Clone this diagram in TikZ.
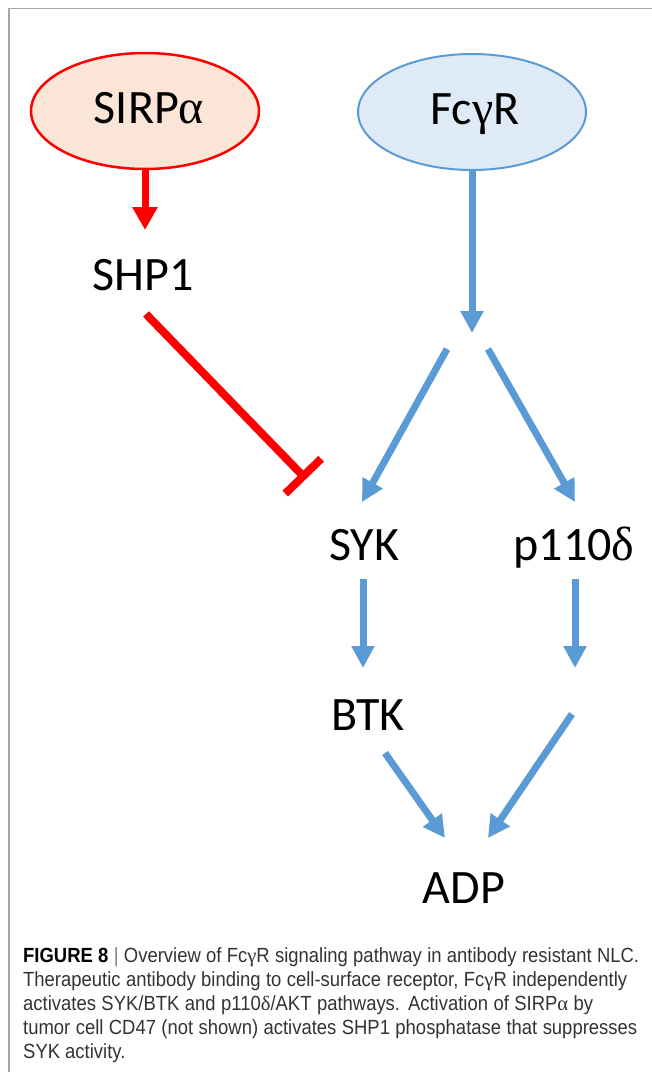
\documentclass[tikz,border=0pt]{standalone}
\usepackage{fontspec}
\usetikzlibrary{arrows.meta,shapes.geometric}
\newfontfamily\labfont{Carlito}
\newfontfamily\grkfont{Liberation Serif}
\newfontfamily\capfont[FakeStretch=0.9]{Liberation Sans}
\definecolor{bluec}{HTML}{5B9BD5}
\definecolor{bluefill}{HTML}{DEEBF7}
\definecolor{redc}{HTML}{FF0000}
\definecolor{peach}{HTML}{FBE5D6}
\definecolor{framec}{HTML}{A6A6A6}
\definecolor{captxt}{HTML}{333333}
\newcommand{\gk}[1]{{\grkfont #1}}
\tikzset{
  lab/.style={font=\labfont\fontsize{48}{48}\selectfont, inner sep=0pt, anchor=base},
  recep/.style={ellipse, minimum width=228pt, minimum height=116pt, inner sep=0pt},
  bluarr/.style={draw=bluec, line width=7pt, -{Triangle[width=22pt,length=22pt]}},
  redarr/.style={draw=redc, line width=7pt, -{Triangle[width=24pt,length=23pt]}},
  inhib/.style={draw=redc, line width=8pt, -{Bar[width=50pt]}},
  capline/.style={font=\capfont\fontsize{20.5}{24}\selectfont, text=captxt, inner sep=0pt, anchor=base west}
}
\begin{document}
\begin{tikzpicture}[x=1pt, y=-1pt]
  \useasboundingbox (0,0) rectangle (652,1072);
  % panel frame (top and left rules)
  \draw[framec, line width=1.5pt] (9,1072) -- (9,8.5) -- (652,8.5);

  % receptors
  \node[recep, draw=redc, line width=2.5pt, fill=peach] (sirp) at (145,111) {};
  \node[recep, draw=bluec, line width=2pt, fill=bluefill] (fcgr) at (472,112) {};
  \node[lab] (sirpt) at (149,123) {SIRP\gk{α}};
  \node[lab] (fcgrt) at (475,124) {Fc\gk{γ}R};

  % signalling molecules
  \node[lab] (shp1) at (143,290) {SHP1};
  \node[lab] (syk) at (364,560) {SYK};
  \node[lab] (p110) at (574,560) {p110\gk{δ}};
  \node[lab] (btk) at (368,730) {BTK};
  \node[lab] (adp) at (464,903) {ADP};

  % connector end points
  \coordinate (shp1in) at (145,230);
  \coordinate (split) at (472,333);
  \coordinate (splitl) at (447,349);
  \coordinate (splitr) at (488,349);
  \coordinate (sykin) at (362,502);
  \coordinate (p110in) at (575,502);
  \coordinate (sykout) at (363,579);
  \coordinate (btkin) at (363,668);
  \coordinate (p110out) at (575,579);
  \coordinate (p110mid) at (575,668);
  \coordinate (btkout) at (385,753);
  \coordinate (adpinl) at (445,838);
  \coordinate (p110low) at (572,714);
  \coordinate (adpinr) at (488,838);
  \coordinate (shp1out) at (146,314);
  \coordinate (sykblock) at (306,479);

  % SIRPa pathway
  \draw[redarr] (sirp.south) -- (shp1in);
  \draw[inhib] (shp1out) -- (sykblock);

  % FcgR pathway
  \draw[bluarr] (fcgr.south) -- (split);
  \draw[bluarr] (splitl) -- (sykin);
  \draw[bluarr] (splitr) -- (p110in);
  \draw[bluarr] (sykout) -- (btkin);
  \draw[bluarr] (p110out) -- (p110mid);
  \draw[bluarr] (btkout) -- (adpinl);
  \draw[bluarr] (p110low) -- (adpinr);

  % legend
  \node[capline] (cap1) at (23,962) {\makebox[616pt][s]{\textcolor{black}{\textbf{FIGURE 8}} \textcolor{gray}{|} Overview of Fc\gk{γ}R signaling pathway in antibody resistant NLC.}};
  \node[capline] (cap2) at (23,986) {\makebox[604pt][s]{Therapeutic antibody binding to cell-surface receptor, Fc\gk{γ}R independently}};
  \node[capline] (cap3) at (23,1010) {\makebox[570pt][s]{activates SYK/BTK and p110\gk{δ}/AKT pathways. Activation of SIRP\gk{α} by}};
  \node[capline] (cap4) at (23,1034) {\makebox[614pt][s]{tumor cell CD47 (not shown) activates SHP1 phosphatase that suppresses}};
  \node[capline] (cap5) at (23,1058) {SYK activity.};
\end{tikzpicture}
\end{document}
